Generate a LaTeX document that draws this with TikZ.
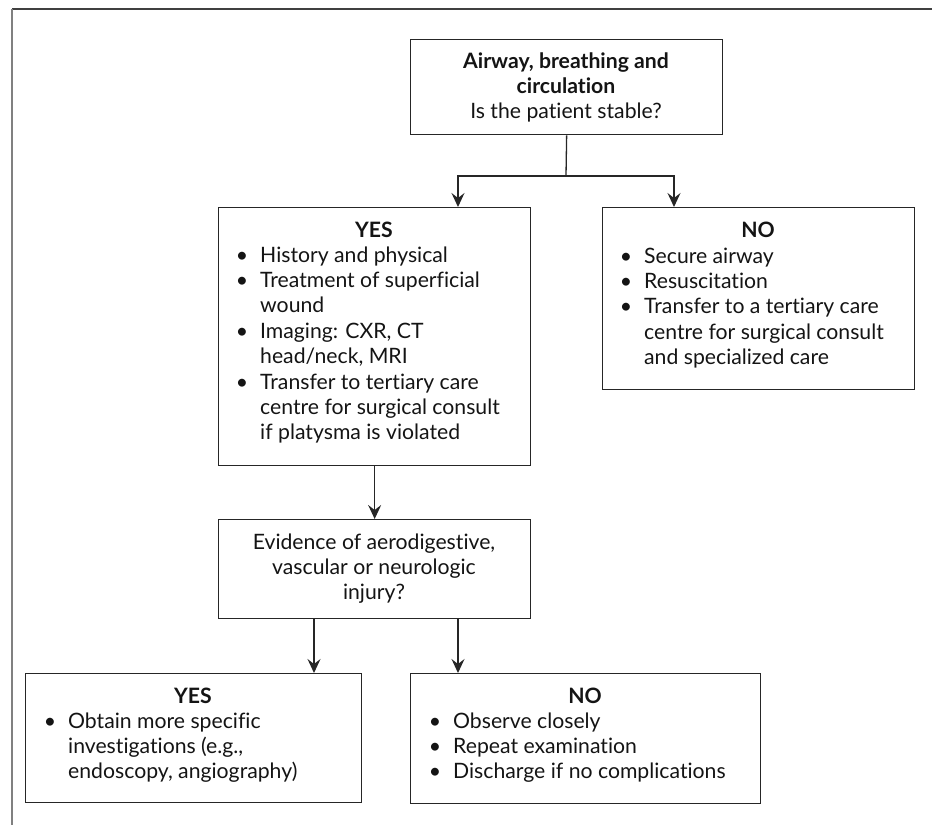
\documentclass[tikz,border=0pt]{standalone}
\usepackage{fontspec}
\setmainfont[Ligatures=NoCommon]{Lato}
\usetikzlibrary{arrows.meta}
\newcommand{\rows}[1]{\begin{tabular}[t]{@{}l@{}}#1\end{tabular}}
\newcommand{\crows}[1]{\begin{tabular}[t]{@{}c@{}}#1\end{tabular}}
\newcommand{\blt}{\llap{\textbullet\hspace{12pt}}}
\begin{document}
\begin{tikzpicture}[x=1pt,y=-1pt,
  box/.style={draw=black!85, line width=1.3pt, inner sep=0pt, anchor=north west},
  ln/.style={draw=black!85, line width=1.3pt},
  arr/.style={ln, -{Stealth[length=14pt,width=13pt,inset=5pt]}},
  txt/.style={inner sep=0pt, font=\fontsize{21.2}{25.4}\selectfont, text=black!92},
  ttl/.style={txt, font=\fontsize{21.2}{25.4}\selectfont\bfseries, anchor=base},
  frame/.style={line width=1.5pt}]
\useasboundingbox (0,0) rectangle (932,825);
% outer frame
\coordinate (fc) at (12,9);
\coordinate (fr) at (932,9);
\coordinate (fb) at (12,825);
\draw[frame, draw=black!75] (fc) -- (fr);
\draw[frame, draw=black!50] (fc) -- (fb);
% boxes
\node[box, minimum width=312pt, minimum height=95pt] (top) at (410,39) {};
\node[box, minimum width=312pt, minimum height=258pt] (yes) at (218,207) {};
\node[box, minimum width=312pt, minimum height=182pt] (no) at (602,207) {};
\node[box, minimum width=312pt, minimum height=99pt] (ev) at (218,519) {};
\node[box, minimum width=336pt, minimum height=129pt] (yestwo) at (25,673) {};
\node[box, minimum width=350pt, minimum height=130pt] (notwo) at (410,673) {};
% texts
\node[txt, anchor=base] (topT) at (566,68) {\crows{\textbf{Airway, breathing and}\\\textbf{circulation}\\Is the patient stable?}};
\node[ttl] (yesH) at (374,237) {YES};
\node[txt, anchor=base west] (yesT) at (260,262) {\rows{\blt History and physical\\\blt Treatment of superficial\\wound\\\blt Imaging: CXR, CT\\head/neck, MRI\\\blt Transfer to tertiary care\\centre for surgical consult\\if platysma is violated}};
\node[ttl] (noH) at (758,237) {NO};
\node[txt, anchor=base west] (noT) at (644,263) {\rows{\blt Secure airway\\\blt Resuscitation\\\blt Transfer to a tertiary care\\centre for surgical consult\\and specialized care}};
\node[txt, anchor=base] (evT) at (374,549) {\crows{Evidence of aerodigestive,\\vascular or neurologic\\injury?}};
\node[ttl] (yestwoH) at (193,703) {YES};
\node[txt, anchor=base west] (yestwoT) at (68,728) {\rows{\blt Obtain more specific\\investigations (e.g.,\\endoscopy, angiography)}};
\node[ttl] (notwoH) at (585,703) {NO};
\node[txt, anchor=base west] (notwoT) at (453,728) {\rows{\blt Observe closely\\\blt Repeat examination\\\blt Discharge if no complications}};
% connectors
\coordinate (j) at (566,176);
\coordinate (yesin) at (458,207);
\coordinate (noin) at (674,207);
\coordinate (ytin) at (314,673);
\coordinate (ntin) at (458,673);
\draw[ln] (top.south) -- (j);
\draw[arr] (j) -| (yesin);
\draw[arr] (j) -| (noin);
\draw[arr] (yes.south) -- (ev.north);
\draw[arr] (ev.south -| ytin) -- (ytin);
\draw[arr] (ev.south -| ntin) -- (ntin);
\end{tikzpicture}
\end{document}
